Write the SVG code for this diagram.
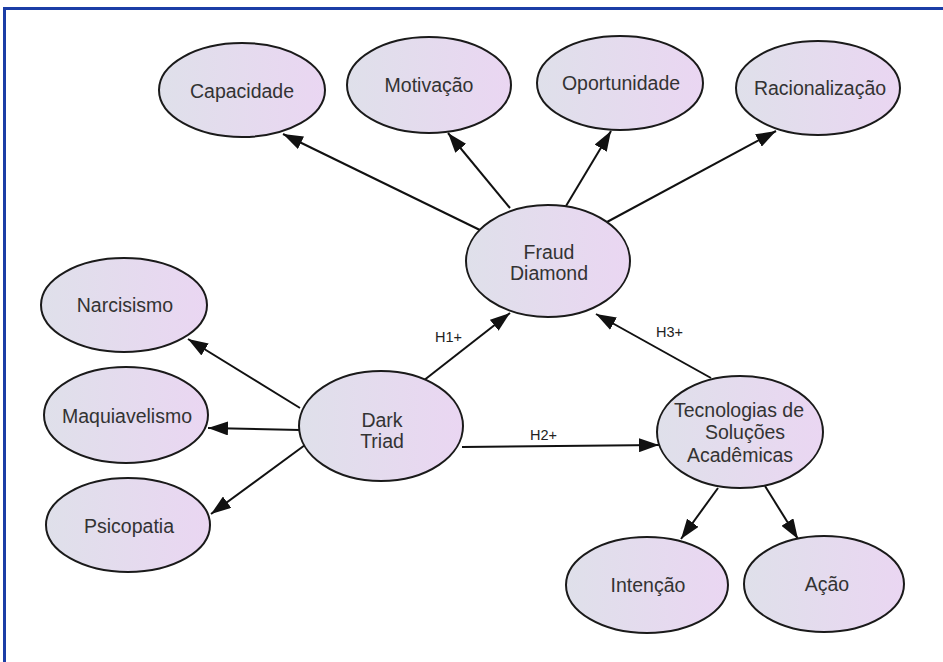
<svg xmlns="http://www.w3.org/2000/svg" width="943" height="662" viewBox="0 0 943 662">
<defs>
<linearGradient id="g" x1="0" y1="0" x2="1" y2="0">
<stop offset="0" stop-color="#dfe0ea"/>
<stop offset="1" stop-color="#ead6f2"/>
</linearGradient>
<marker id="a" markerWidth="20" markerHeight="14" refX="20" refY="7" orient="auto" markerUnits="userSpaceOnUse">
<path d="M0,0 L20,7 L0,14 Z" fill="#111"/>
</marker>
<style>
.n ellipse{fill:url(#g);stroke:#1a1a1a;stroke-width:2}
.n text{font-family:"Liberation Sans",Arial,sans-serif;font-size:19.5px;fill:#333;text-anchor:middle}
#edges line{stroke:#111;stroke-width:2;marker-end:url(#a)}
.lbl{font-family:"Liberation Sans",Arial,sans-serif;font-size:14.5px;fill:#222}
</style>
</defs>
<rect width="943" height="662" fill="#fff"/>
<rect x="4.5" y="8.5" width="960" height="700" fill="none" stroke="#1b3da6" stroke-width="3"/>
<g id="edges">
<line x1="484" y1="232" x2="283" y2="134"/>
<line x1="510" y1="208" x2="448" y2="133"/>
<line x1="566" y1="206" x2="611" y2="131"/>
<line x1="607" y1="222" x2="776" y2="131"/>
<line x1="423" y1="381" x2="510" y2="313"/>
<line x1="711" y1="378" x2="596" y2="314"/>
<line x1="462" y1="447" x2="659" y2="445"/>
<line x1="300" y1="408" x2="188" y2="339"/>
<line x1="300" y1="430" x2="208" y2="428"/>
<line x1="305" y1="445" x2="211" y2="514"/>
<line x1="718" y1="488" x2="681" y2="539"/>
<line x1="765" y1="486" x2="798" y2="539"/>
<text class="lbl" x="435" y="342">H1+</text>
<text class="lbl" x="656" y="337">H3+</text>
<text class="lbl" x="530" y="440">H2+</text>
</g>
<g id="capacidade" class="n"><ellipse cx="242" cy="90" rx="83" ry="47"/><text x="242" y="98">Capacidade</text></g>
<g id="motivacao" class="n"><ellipse cx="429" cy="85" rx="82" ry="48"/><text x="429" y="92">Motivação</text></g>
<g id="oportunidade" class="n"><ellipse cx="620" cy="83" rx="83" ry="47"/><text x="621" y="90">Oportunidade</text></g>
<g id="racionalizacao" class="n"><ellipse cx="818" cy="88" rx="82" ry="47"/><text x="820" y="95">Racionalização</text></g>
<g id="fraud" class="n"><ellipse cx="548" cy="261" rx="82" ry="56"/><text x="549" y="259">Fraud</text><text x="549" y="280">Diamond</text></g>
<g id="narcisismo" class="n"><ellipse cx="124" cy="305" rx="83" ry="47"/><text x="125" y="312">Narcisismo</text></g>
<g id="maquiavelismo" class="n"><ellipse cx="126" cy="415" rx="82" ry="48"/><text x="127" y="423">Maquiavelismo</text></g>
<g id="psicopatia" class="n"><ellipse cx="128" cy="525" rx="82" ry="47"/><text x="129" y="533">Psicopatia</text></g>
<g id="dark" class="n"><ellipse cx="381" cy="426" rx="82" ry="55"/><text x="382" y="427">Dark</text><text x="382" y="448">Triad</text></g>
<g id="tecnologias" class="n"><ellipse cx="740" cy="432" rx="83" ry="56"/><text x="739" y="417">Tecnologias de</text><text x="745" y="439">Soluções</text><text x="740" y="462">Acadêmicas</text></g>
<g id="intencao" class="n"><ellipse cx="647" cy="585" rx="81" ry="48"/><text x="648" y="592">Intenção</text></g>
<g id="acao" class="n"><ellipse cx="824" cy="584" rx="80" ry="48"/><text x="827" y="591">Ação</text></g>
</svg>
